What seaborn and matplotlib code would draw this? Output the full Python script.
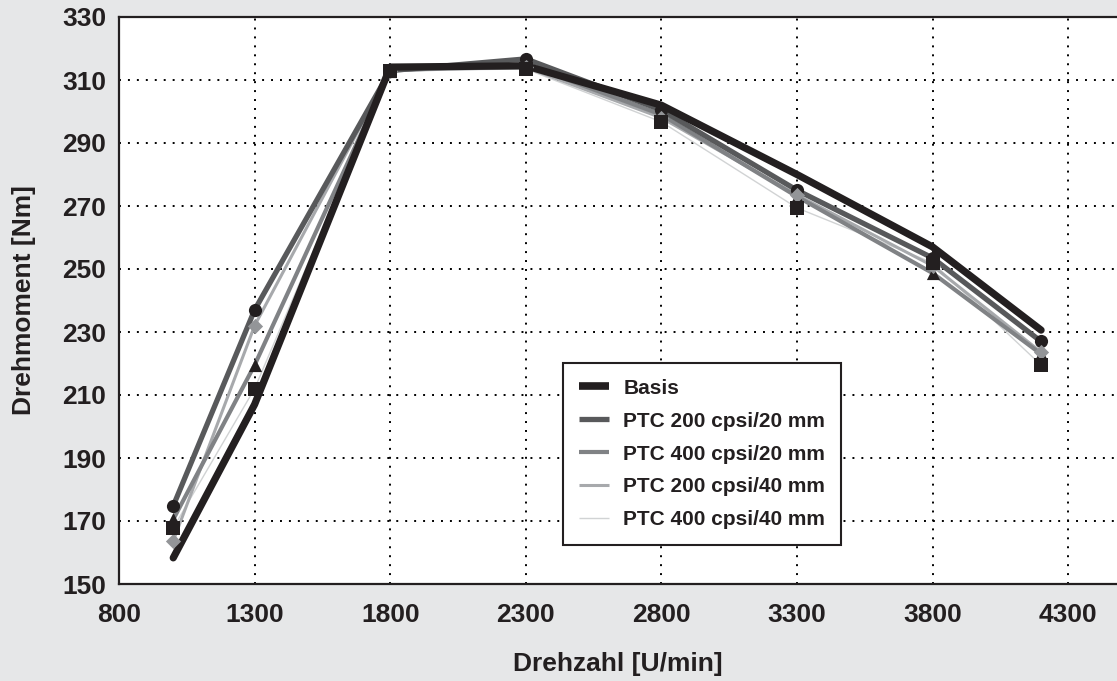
import matplotlib
matplotlib.use("Agg")
import matplotlib.pyplot as plt
from matplotlib.ticker import MultipleLocator
from matplotlib.lines import Line2D
import seaborn as sns
import pandas as pd

# ---- data ----
rpm = [1000, 1300, 1800, 2300, 2800, 3300, 3800, 4200]
basis = [158.3, 207.0, 314.1, 314.5, 302.0, 280.0, 257.0, 230.6]
ptc200_20 = [174.8, 237.0, 313.0, 316.7, 300.5, 275.0, 253.5, 227.0]
ptc400_20 = [170.5, 219.5, 313.0, 315.0, 299.0, 273.0, 248.7, 223.0]
ptc200_40 = [163.7, 232.0, 313.0, 314.0, 298.0, 273.5, 251.0, 223.6]
ptc400_40 = [167.8, 212.0, 313.0, 313.5, 296.7, 269.4, 252.0, 219.5]

series_names = ["Basis", "PTC 200 cpsi/20 mm", "PTC 400 cpsi/20 mm",
                "PTC 200 cpsi/40 mm", "PTC 400 cpsi/40 mm"]
series_values = [basis, ptc200_20, ptc400_20, ptc200_40, ptc400_40]

x_ticks = [800, 1300, 1800, 2300, 2800, 3300, 3800, 4300]
y_ticks = [150, 170, 190, 210, 230, 250, 270, 290, 310, 330]

# ---- styles ----
line_colors = ["#231f20", "#58595b", "#808285", "#a7a9ac", "#d1d3d4"]
line_widths = [5.2, 3.8, 3.0, 2.2, 1.0]
legend_widths = [5.5, 3.8, 3.0, 2.2, 1.0]
marker_shapes = [None, "o", "^", "D", "s"]
marker_colors = [None, "#231f20", "#231f20", "#939598", "#231f20"]
marker_sizes = [None, 90, 90, 60, 90]

ink = "#231f20"
bg = "#e6e7e8"
fs = 19

sns.set_theme(style="white")
plt.rcParams["font.family"] = ["Liberation Sans", "DejaVu Sans"]
plt.rcParams["font.weight"] = "bold"

rows = []
for name, vals in zip(series_names, series_values):
    for r, v in zip(rpm, vals):
        rows.append({"series": name, "rpm": r, "torque": v})
df = pd.DataFrame(rows)

fig = plt.figure(figsize=(11.17, 6.81), dpi=100, facecolor=bg)
ax = fig.add_axes([119 / 1117, 1 - 584 / 681, 1 - 119 / 1117, (584 - 17) / 681])
ax.set_facecolor("white")

# lines: lightest first so Basis ends up on top
handles = {}
for i in reversed(range(len(series_names))):
    name = series_names[i]
    sub = df[df["series"] == name]
    sns.lineplot(data=sub, x="rpm", y="torque", ax=ax, color=line_colors[i],
                 linewidth=line_widths[i], legend=False, zorder=3 + (5 - i),
                 solid_joinstyle="round", solid_capstyle="round")
    handles[name] = Line2D([0], [0], color=line_colors[i],
                           linewidth=legend_widths[i], solid_capstyle="butt")

# markers on top
for i in range(1, len(series_names)):
    sub = df[df["series"] == series_names[i]]
    sns.scatterplot(data=sub, x="rpm", y="torque", ax=ax, marker=marker_shapes[i],
                    color=marker_colors[i], s=marker_sizes[i], linewidth=0,
                    legend=False, zorder=20)

ax.set_xlim(800, 800 + (1117 - 119) / 135.6 * 500)
ax.set_ylim(150, 330)
ax.set_xticks(x_ticks)
ax.set_yticks(y_ticks)
ax.yaxis.set_minor_locator(MultipleLocator(10))
ax.set_xticklabels([str(t) for t in x_ticks])
ax.set_yticklabels([str(t) for t in y_ticks])

ax.grid(True, which="major", color="black", linestyle=(0, (1, 3.6)), linewidth=1.4)
ax.set_axisbelow(True)

for s in ["left", "bottom", "top"]:
    ax.spines[s].set_color(ink)
    ax.spines[s].set_linewidth(1.6)
ax.spines["right"].set_visible(False)

ax.tick_params(axis="both", which="major", direction="out", length=6, width=1.4,
               color=ink, labelsize=fs, labelcolor=ink, pad=3)
ax.tick_params(axis="y", which="minor", direction="out", length=6, width=1.4, color=ink)
ax.tick_params(axis="x", which="major", pad=8)
for lab in ax.get_xticklabels() + ax.get_yticklabels():
    lab.set_fontweight("bold")

ax.set_xlabel("Drehzahl [U/min]", fontsize=fs, fontweight="bold", color=ink, labelpad=18)
ax.set_ylabel("Drehmoment [Nm]", fontsize=fs, fontweight="bold", color=ink, labelpad=19)

leg = ax.legend([handles[n] for n in series_names], series_names,
                loc="upper left", bbox_to_anchor=(563 / 1117, 1 - 363 / 681),
                bbox_transform=fig.transFigure, frameon=True, fancybox=False,
                fontsize=15, handlelength=1.45, handletextpad=0.7,
                labelspacing=0.67, borderpad=0.75, borderaxespad=0)
leg.get_frame().set_edgecolor(ink)
leg.get_frame().set_linewidth(1.5)
leg.get_frame().set_facecolor("white")
leg.get_frame().set_alpha(1)
leg.set_zorder(30)
for t in leg.get_texts():
    t.set_fontweight("bold")
    t.set_color(ink)

fig.savefig("out.png", dpi=100, facecolor=bg)
